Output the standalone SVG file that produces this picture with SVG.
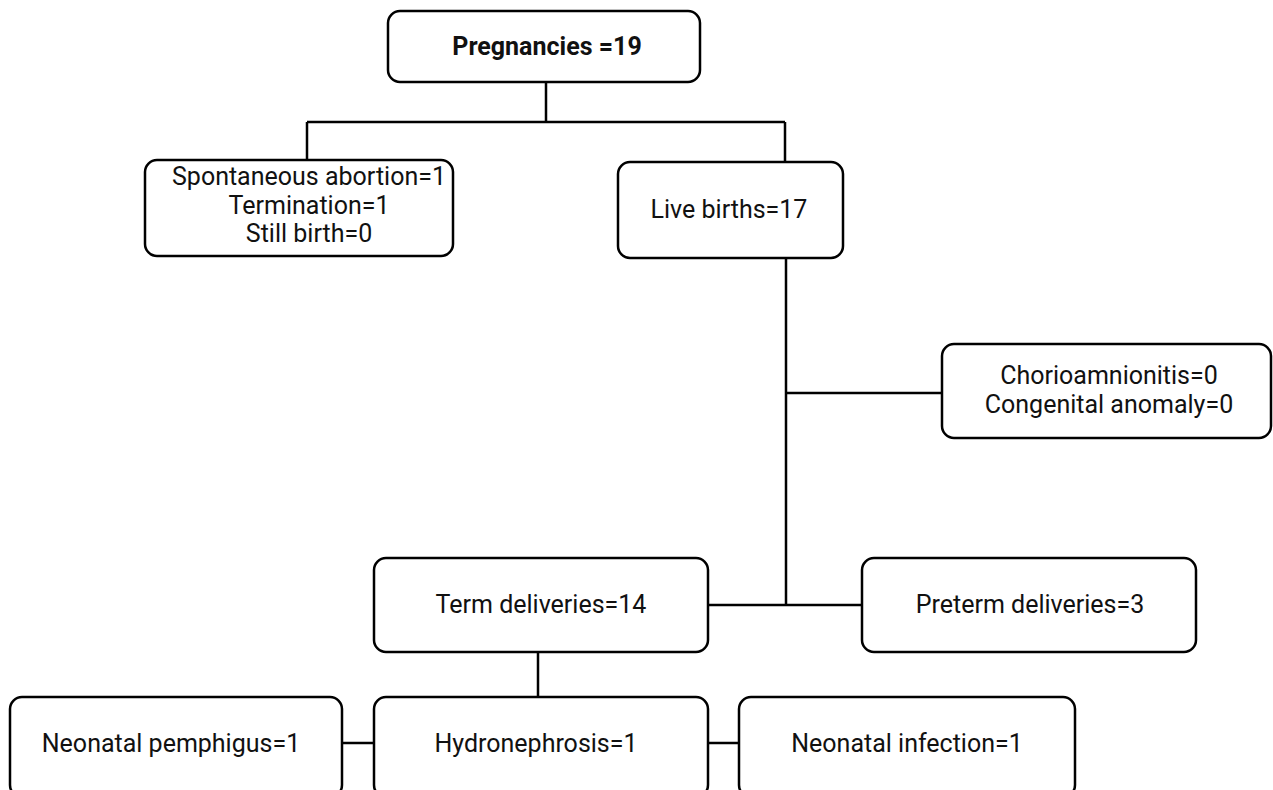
<svg xmlns="http://www.w3.org/2000/svg" width="1273" height="790" viewBox="0 0 1273 790">
<style>
.box{fill:#fff;stroke:#000;stroke-width:2.5}
.c{fill:none;stroke:#000;stroke-width:2.5}
text{font-family:Roboto,"Liberation Sans",sans-serif;font-size:25px;fill:#111;text-anchor:middle}
.b{font-weight:bold}
</style>
<rect width="1273" height="790" fill="#fff"/>
<g id="connectors">
<path class="c" d="M546 82V122M307 122H785M307 122V160M785 122V162"/>
<path class="c" d="M786 258V605M786 393H942M708 605H862"/>
<path class="c" d="M538 652V697M342 743H374M708 743H739"/>
</g>
<g id="n-preg"><rect class="box" x="388" y="11" width="312" height="71" rx="12"/><text class="b" x="547" y="55">Pregnancies =19</text></g>
<g id="n-abort"><rect class="box" x="145" y="160" width="308" height="96" rx="12"/><text x="309" y="185">Spontaneous abortion=1</text><text x="309" y="214">Termination=1</text><text x="309" y="242">Still birth=0</text></g>
<g id="n-live"><rect class="box" x="618" y="162" width="225" height="96" rx="12"/><text x="729" y="218">Live births=17</text></g>
<g id="n-chorio"><rect class="box" x="942" y="344" width="329" height="94" rx="12"/><text x="1109" y="384">Chorioamnionitis=0</text><text x="1109" y="413">Congenital anomaly=0</text></g>
<g id="n-term"><rect class="box" x="374" y="558" width="334" height="94" rx="12"/><text x="541" y="613">Term deliveries=14</text></g>
<g id="n-preterm"><rect class="box" x="862" y="558" width="334" height="94" rx="12"/><text x="1030" y="613">Preterm deliveries=3</text></g>
<g id="n-pemph"><rect class="box" x="10" y="697" width="332" height="100" rx="12"/><text x="171" y="752">Neonatal pemphigus=1</text></g>
<g id="n-hydro"><rect class="box" x="374" y="697" width="334" height="100" rx="12"/><text x="536" y="752">Hydronephrosis=1</text></g>
<g id="n-infect"><rect class="box" x="739" y="697" width="336" height="100" rx="12"/><text x="907" y="752">Neonatal infection=1</text></g>
</svg>
